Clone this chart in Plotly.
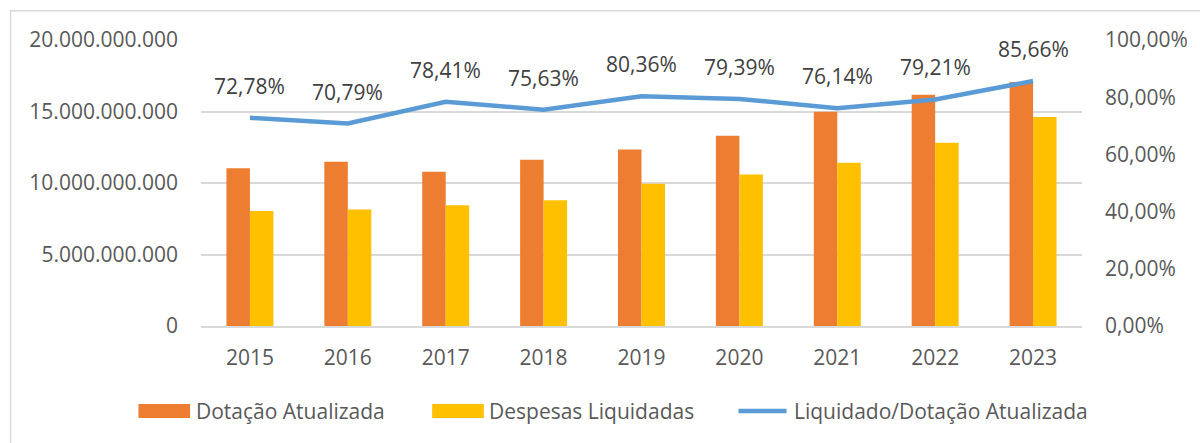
import plotly.graph_objects as go

# Annual budget figures (R$)
anos = ["2015", "2016", "2017", "2018", "2019", "2020", "2021", "2022", "2023"]
dotacao_atualizada = [11.04e9, 11.49e9, 10.78e9, 11.62e9, 12.35e9, 13.31e9, 14.99e9, 16.18e9, 17.06e9]
despesas_liquidadas = [8.05e9, 8.15e9, 8.45e9, 8.80e9, 9.94e9, 10.60e9, 11.41e9, 12.82e9, 14.61e9]
liquidado_dotacao = [0.7278, 0.7079, 0.7841, 0.7563, 0.8036, 0.7939, 0.7614, 0.7921, 0.8566]

ORANGE = "#ED7D31"
YELLOW = "#FFC000"
BLUE = "#5B9BD5"
GRID = "#D9D9D9"
TICK = "#595959"
LABEL = "#404040"
FONT = "Open Sans"
FS = 21

fig = go.Figure()
fig.add_trace(go.Bar(x=anos, y=dotacao_atualizada, name="Dotação Atualizada",
                     marker=dict(color=ORANGE, line=dict(width=0)), showlegend=False))
fig.add_trace(go.Bar(x=anos, y=despesas_liquidadas, name="Despesas Liquidadas",
                     marker=dict(color=YELLOW, line=dict(width=0)), showlegend=False))
fig.add_trace(go.Scatter(x=anos, y=liquidado_dotacao, name="Liquidado/Dotação Atualizada",
                         yaxis="y2", mode="lines", line=dict(color=BLUE, width=4.5),
                         showlegend=False))

# Percentage labels above each point of the line (x given as category index)
annotations = []
for i, v in enumerate(liquidado_dotacao):
    txt = f"{v * 100:.2f}%".replace(".", ",")
    annotations.append(dict(x=i, y=v, xref="x", yref="y2", text=txt, showarrow=False,
                            yshift=32, yanchor="middle",
                            font=dict(family=FONT, size=FS, color=LABEL)))

# Legend drawn along the bottom edge
legend_items = [
    (ORANGE, "bar", -0.0710, "Dotação Atualizada"),
    (YELLOW, "bar", 0.2624, "Despesas Liquidadas"),
    (BLUE, "line", 0.6081, "Liquidado/Dotação Atualizada"),
]
shapes = []
for color, kind, x0, label in legend_items:
    x1 = x0 + 0.0586
    if kind == "bar":
        shapes.append(dict(type="rect", xref="paper", yref="paper", x0=x0, x1=x1,
                           y0=-0.3215, y1=-0.2725, fillcolor=color, line=dict(width=0)))
    else:
        shapes.append(dict(type="line", xref="paper", yref="paper", x0=x0 + 0.002, x1=x1 - 0.002,
                           y0=-0.297, y1=-0.297, line=dict(color=color, width=4.5)))
    annotations.append(dict(x=x1 + 0.004, y=-0.297, xref="paper", yref="paper", text=label,
                            showarrow=False, xanchor="left", yanchor="middle",
                            font=dict(family=FONT, size=FS, color=TICK)))

# Chart outline
shapes.append(dict(type="rect", xref="paper", yref="paper", x0=-0.2162, x1=1.15,
                   y0=-0.45, y1=1.1026, line=dict(color=GRID, width=1.5), layer="below"))

fig.update_layout(
    width=1200, height=443,
    margin=dict(l=201, r=111, t=40, b=117),
    paper_bgcolor="white", plot_bgcolor="white",
    barmode="group", bargap=0.52, bargroupgap=0,
    separators=",.",
    font=dict(family=FONT, size=FS, color=TICK),
    xaxis=dict(type="category", range=[-0.5, len(anos) - 0.5], showgrid=False,
               showline=True, linecolor=GRID, linewidth=1.5,
               ticks="", ticklabelstandoff=12, tickfont=dict(size=FS, color=TICK)),
    yaxis=dict(range=[0, 20e9], tickvals=[0, 5e9, 10e9, 15e9, 20e9], tickformat=",d",
               showgrid=True, gridcolor=GRID, gridwidth=1.5, zeroline=False, showline=False,
               ticks="", ticklabelstandoff=22, tickfont=dict(size=FS, color=TICK)),
    yaxis2=dict(range=[0, 1], tickvals=[0, 0.2, 0.4, 0.6, 0.8, 1.0], tickformat=".2%",
                overlaying="y", side="right", showgrid=False, zeroline=False, showline=False,
                ticks="", ticklabelstandoff=22, tickfont=dict(size=FS, color=TICK)),
    annotations=annotations,
    shapes=shapes,
    showlegend=False,
)

fig.write_html("out.html")
